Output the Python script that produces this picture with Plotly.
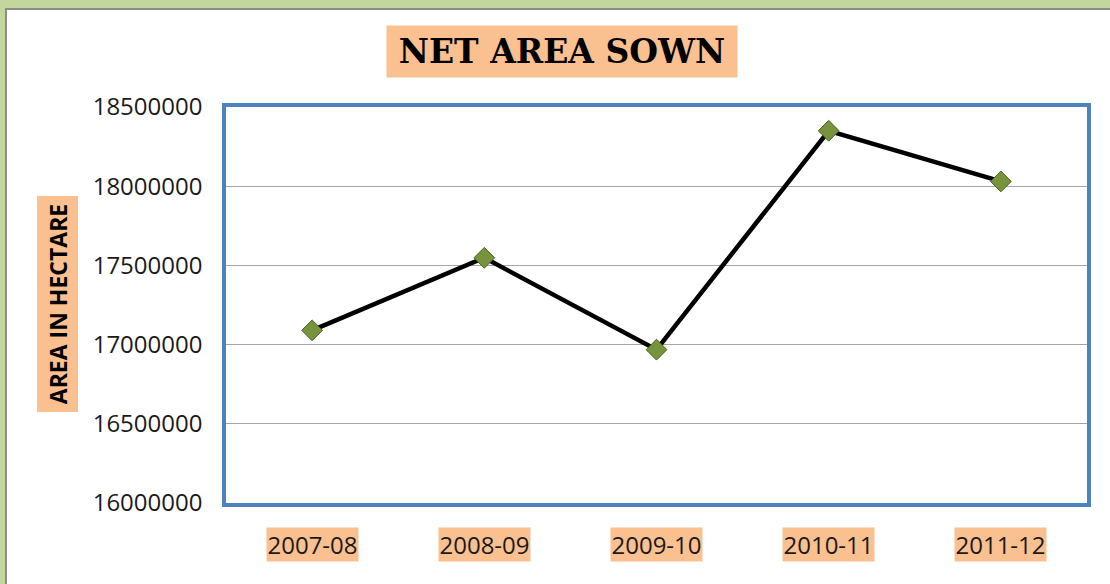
import plotly.graph_objects as go

# ---- data ----
years = ["2007-08", "2008-09", "2009-10", "2010-11", "2011-12"]
area_hectare = [17090000, 17548000, 16968000, 18350000, 18030000]
y_ticks = [16000000, 16500000, 17000000, 17500000, 18000000, 18500000]
title_text = "NET AREA SOWN"
y_title_text = "AREA IN HECTARE"

W, H = 1110, 584
L, R, T, B = 226, 23, 107, 81
PW, PH = W - L - R, H - T - B

def px(xp):
    return (xp - L) / PW

def py(yp):
    return (H - B - yp) / PH

ORANGE = "#FAC090"
GREEN_BG = "#C3D69B"
FONT = "Open Sans"

fig = go.Figure()
fig.add_trace(go.Scatter(
    x=years, y=area_hectare, mode="lines+markers",
    line=dict(color="black", width=4.5),
    marker=dict(symbol="diamond", size=16, color="#77933C",
                line=dict(color="#4F6228", width=1)),
    showlegend=False, hoverinfo="x+y",
))

shapes = [
    dict(type="rect", xref="paper", yref="paper",
         x0=px(6), x1=px(W + 10), y0=py(H + 10), y1=py(9),
         fillcolor="white", line=dict(color="#8c8c8c", width=2), layer="below"),
]

annotations = [
    dict(text=f"<b>{title_text}</b>", xref="paper", yref="paper",
         x=px(562), y=py(51.5), xanchor="center", yanchor="middle",
         showarrow=False, bgcolor=ORANGE, width=350, height=51, borderpad=0,
         font=dict(family="DejaVu Serif", size=33, color="black")),
    dict(text=f"<b>{y_title_text}</b>", xref="paper", yref="paper",
         x=px(57), y=py(304.5), xanchor="center", yanchor="middle",
         showarrow=False, bgcolor=ORANGE, width=215, height=40, borderpad=0,
         textangle=-90,
         font=dict(family=FONT, size=23, color="black")),
]
for yr in years:
    annotations.append(dict(
        text=yr, xref="x", yref="paper", x=yr, y=py(544.5),
        xanchor="center", yanchor="middle", showarrow=False,
        bgcolor=ORANGE, width=91, height=33, borderpad=0,
        font=dict(family=FONT, size=24, color="#1a1a1a")))

fig.update_layout(
    width=W, height=H,
    margin=dict(l=L, r=R, t=T, b=B, pad=0),
    paper_bgcolor=GREEN_BG, plot_bgcolor="white",
    shapes=shapes, annotations=annotations,
    xaxis=dict(type="category", range=[-0.5, 4.5], showticklabels=False,
               showgrid=False, zeroline=False, ticks="",
               showline=True, mirror=True, linecolor="#4F81BD", linewidth=3.5),
    yaxis=dict(range=[16000000, 18500000], tickvals=y_ticks,
               ticktext=[str(v) for v in y_ticks],
               showgrid=True, gridcolor="#a6a6a6", gridwidth=1,
               zeroline=False, ticks="", ticklabelstandoff=15,
               tickfont=dict(family=FONT, size=24, color="#1a1a1a"),
               showline=True, mirror=True, linecolor="#4F81BD", linewidth=3.5),
)

fig.write_html(
    "out.html",
    config={"displayModeBar": False},
    post_script="document.body.style.margin='0';document.body.style.overflow='hidden';",
)
